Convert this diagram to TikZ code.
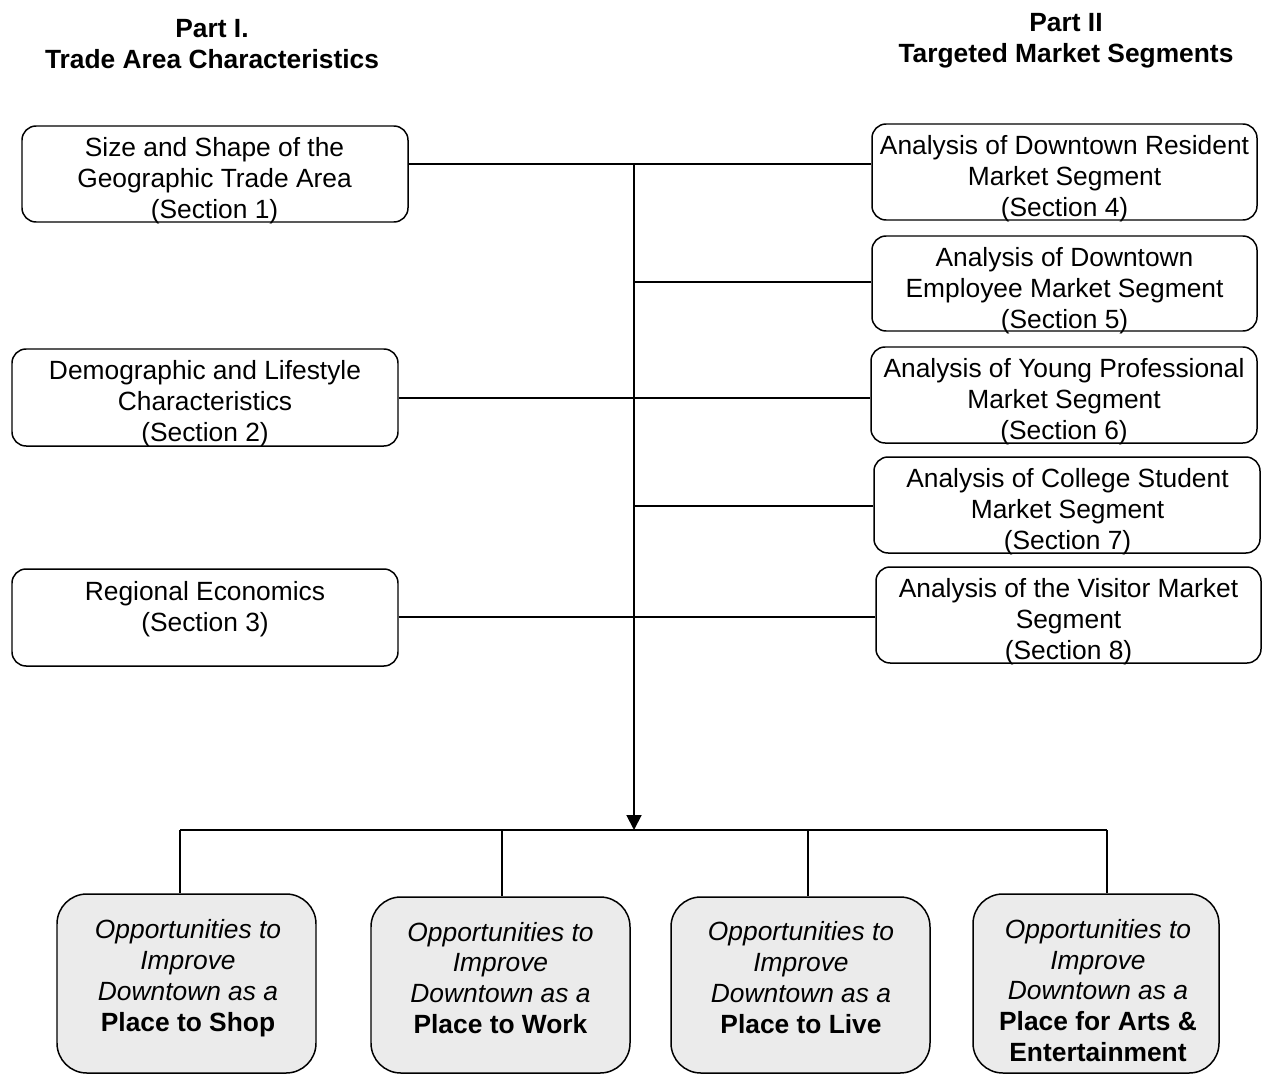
\documentclass[tikz,border=0pt]{standalone}
\usepackage{fontspec}
\setmainfont{Liberation Sans}
\usetikzlibrary{arrows.meta}
\def\u{0.02cm}
\tikzset{
  box/.style={draw, line width=0.85pt, rounded corners=8pt, inner sep=0pt},
  obox/.style={draw, line width=0.85pt, rounded corners=17pt, fill=gray!16, inner sep=0pt},
  txt/.style={align=center, inner sep=0pt, font=\fontsize{15}{17.6}\selectfont},
  head/.style={align=center, inner sep=0pt, font=\fontsize{15}{17.6}\selectfont\bfseries},
  conn/.style={line width=1.1pt},
}
\begin{document}
\begin{tikzpicture}[x=\u, y=-\u]
\useasboundingbox (0,0) rectangle (1262,1075);
% headings
\node[head] (h1) at (212,44) {Part I.\\Trade Area Characteristics};
\node[head] (h2) at (1066,41) {Part II\\Targeted Market Segments};
% left boxes
\node[box, minimum width=386*\u, minimum height=96*\u] (b1) at (215,174) {};
\node[box, minimum width=386*\u, minimum height=97*\u] (b2) at (205,397.5) {};
\node[box, minimum width=386*\u, minimum height=97*\u] (b3) at (205,617.5) {};
% right boxes
\node[box, minimum width=385*\u, minimum height=96*\u] (b4) at (1064.5,172) {};
\node[box, minimum width=385*\u, minimum height=95*\u] (b5) at (1064.5,283.5) {};
\node[box, minimum width=386*\u, minimum height=96*\u] (b6) at (1064,395) {};
\node[box, minimum width=386*\u, minimum height=96*\u] (b7) at (1067,505) {};
\node[box, minimum width=385*\u, minimum height=96*\u] (b8) at (1068.5,615) {};
% box texts
\node[txt] (t1) at (214.5,181) {Size and Shape of the\\Geographic Trade Area\\(Section 1)};
\node[txt] (t2) at (205,404) {Demographic and Lifestyle\\Characteristics\\(Section 2)};
\node[txt] (t3) at (205,609.5) {Regional Economics\\(Section 3)};
\node[txt] (t4) at (1064.5,179) {Analysis of Downtown Resident\\Market Segment\\(Section 4)};
\node[txt] (t5) at (1064.5,291) {Analysis of Downtown\\Employee Market Segment\\(Section 5)};
\node[txt] (t6) at (1064,402) {Analysis of Young Professional\\Market Segment\\(Section 6)};
\node[txt] (t7) at (1067.5,512) {Analysis of College Student\\Market Segment\\(Section 7)};
\node[txt] (t8) at (1068.5,622) {Analysis of the Visitor Market\\Segment\\(Section 8)};
% outcome boxes
\node[obox, minimum width=259*\u, minimum height=179*\u] (o1) at (186.5,983.5) {};
\node[obox, minimum width=259*\u, minimum height=176*\u] (o2) at (500.5,985) {};
\node[obox, minimum width=259*\u, minimum height=176*\u] (o3) at (800.5,985) {};
\node[obox, minimum width=246*\u, minimum height=179*\u] (o4) at (1096,983.5) {};
\node[txt] (p1) at (188,978) {\itshape Opportunities to\\\itshape Improve\\\itshape Downtown as a\\\textbf{Place to Shop}};
\node[txt] (p2) at (500.5,978) {\itshape Opportunities to\\\itshape Improve\\\itshape Downtown as a\\\textbf{Place to Work}};
\node[txt] (p3) at (801,977.5) {\itshape Opportunities to\\\itshape Improve\\\itshape Downtown as a\\\textbf{Place to Live}};
\node[txt] (p4) at (1098,990.5) {\itshape Opportunities to\\\itshape Improve\\\itshape Downtown as a\\\textbf{Place for Arts \&}\\\textbf{Entertainment}};
% junction coordinates
\coordinate (j1) at (634,164);
\coordinate (j2) at (634,282);
\coordinate (j3) at (634,398);
\coordinate (j4) at (634,506);
\coordinate (j5) at (634,617);
\coordinate (jb) at (634,830);
\coordinate (d1) at (180,830);
\coordinate (d2) at (502,830);
\coordinate (d3) at (808,830);
\coordinate (d4) at (1107,830);
% connectors
\draw[conn] (b1.east |- j1) -- (b4.west |- j1);
\draw[conn] (j2) -- (b5.west |- j2);
\draw[conn] (b2.east |- j3) -- (b6.west |- j3);
\draw[conn] (j4) -- (b7.west |- j4);
\draw[conn] (b3.east |- j5) -- (b8.west |- j5);
\draw[conn, -{Triangle[width=8.5pt,length=8.5pt]}] (j1) -- (jb);
\draw[conn] (d1) -- (d4);
\draw[conn] (d1) -- (o1.north -| d1);
\draw[conn] (d2) -- (o2.north -| d2);
\draw[conn] (d3) -- (o3.north -| d3);
\draw[conn] (d4) -- (o4.north -| d4);
\end{tikzpicture}
\end{document}
